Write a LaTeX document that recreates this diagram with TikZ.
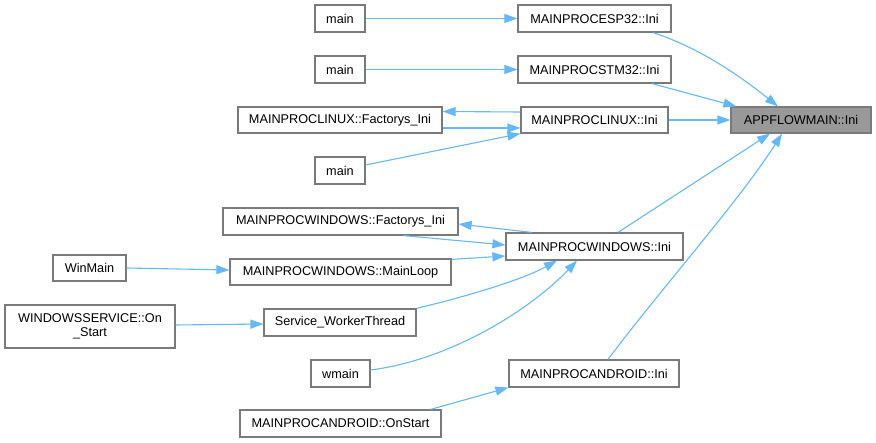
\documentclass[tikz,border=0pt]{standalone}
\usepackage{fontspec}
\setmainfont{Liberation Sans}
\usetikzlibrary{arrows.meta}
\definecolor{edgec}{HTML}{63B8FF}
\definecolor{boxc}{HTML}{7A7A7A}
\definecolor{rootfill}{HTML}{999999}
\tikzset{
  fn/.style={draw=boxc, line width=1.2pt, fill=white, rectangle, inner sep=0pt, anchor=center,
    font=\fontsize{12.7}{14.5}\selectfont, text=black, align=center},
  rootfn/.style={fn, fill=rootfill},
  call/.style={draw=edgec, line width=1.1pt, -{Triangle[length=13pt,width=9pt]}, color=edgec},
}
\begin{document}
\begin{tikzpicture}[x=1pt,y=-1pt]
\useasboundingbox (0,0) rectangle (876,443);
% nodes (centre, width, height in px)
\node[rootfn, minimum width=140, minimum height=26] (app) at (801,120) {APPFLOWMAIN::Ini};
\node[fn, minimum width=153, minimum height=27] (esp) at (594.5,18.5) {MAINPROCESP32::Ini};
\node[fn, minimum width=153, minimum height=27] (stm) at (594.5,69.5) {MAINPROCSTM32::Ini};
\node[fn, minimum width=147, minimum height=26] (lin) at (594.5,120) {MAINPROCLINUX::Ini};
\node[fn, minimum width=177, minimum height=27] (win) at (594.5,246.5) {MAINPROCWINDOWS::Ini};
\node[fn, minimum width=170, minimum height=27] (aini) at (594,373.5) {MAINPROCANDROID::Ini};
\node[fn, minimum width=50, minimum height=27] (m1) at (340,18.5) {main};
\node[fn, minimum width=50, minimum height=27] (m2) at (340,69.5) {main};
\node[fn, minimum width=204, minimum height=26] (lfac) at (340,120) {MAINPROCLINUX::Factorys\_Ini};
\node[fn, minimum width=50, minimum height=27] (m3) at (340,170.5) {main};
\node[fn, minimum width=235, minimum height=27] (wfac) at (340.5,221.5) {MAINPROCWINDOWS::Factorys\_Ini};
\node[fn, minimum width=221, minimum height=26] (loop) at (340.5,272) {MAINPROCWINDOWS::MainLoop};
\node[fn, minimum width=152, minimum height=27] (swt) at (340,322.5) {Service\_WorkerThread};
\node[fn, minimum width=59, minimum height=27] (wm) at (340.5,373.5) {wmain};
\node[fn, minimum width=201, minimum height=27] (aos) at (340.5,423.5) {MAINPROCANDROID::OnStart};
\node[fn, minimum width=73, minimum height=26] (winm) at (89.5,268) {WinMain};
\node[fn, minimum width=170, minimum height=43] (wsvc) at (90,326.5) {WINDOWSSERVICE::On\\\_Start};
% edges
\draw[call] (m1.east) -- (esp.west);
\draw[call] (m2.east) -- (stm.west);
\draw[call] ([xshift=58.5pt]esp.south) .. controls (700,48) and (740,76) .. ([xshift=-23pt]app.north);
\draw[call] ([xshift=57.5pt]stm.south) -- ([xshift=6pt]app.north west);
\draw[call] (lin.east) -- (app.west);
\draw[call] ([yshift=8pt]lin.west) -- ([yshift=8.5pt]lfac.east);
\draw[call] ([yshift=-8pt]lfac.east) -- ([yshift=-8pt]lin.west);
\draw[call] ([yshift=5.5pt]m3.east) -- (lin.south west);
\draw[call] ([xshift=23.5pt]win.north) -- ([xshift=-31pt]app.south);
\draw[call] ([xshift=14pt]aini.north) .. controls (660,290) and (740,200) .. ([xshift=-19pt]app.south);
\draw[call] ([xshift=26pt]win.north west) -- ([yshift=-2.5pt]wfac.east);
\draw[call] ([xshift=-55pt]wfac.south east) -- ([yshift=1.5pt]win.west);
\draw[call] ([yshift=-1pt]loop.north east) -- ([yshift=-9.5pt]win.west);
\draw[call] (winm.east) -- ([yshift=2pt]loop.west);
\draw[call] ([yshift=1.5pt]wsvc.east) -- ([yshift=-1.5pt]swt.west);
\draw[call] (swt.north east) .. controls (460,298) and (520,281) .. ([xshift=-37.5pt]win.south);
\draw[call] ([yshift=3.5pt]wm.east) .. controls (450,360) and (530,310) .. ([xshift=-17.5pt]win.south);
\draw[call] ([xshift=-11pt]aos.north east) -- (aini.south west);
\end{tikzpicture}
\end{document}
